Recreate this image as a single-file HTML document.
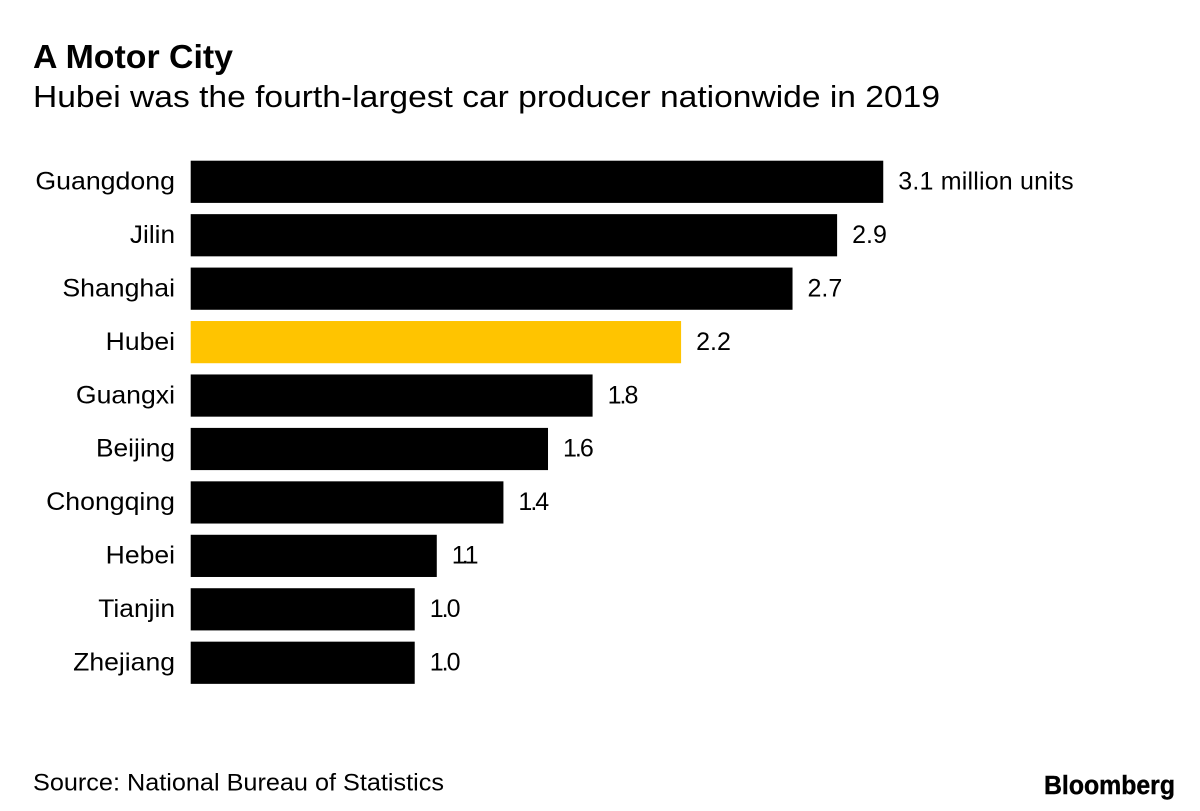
<!DOCTYPE html>
<html>
<head>
<meta charset="utf-8">
<style>
html,body{margin:0;padding:0;background:#fff;}
body{width:1200px;height:811px;overflow:hidden;font-family:"Liberation Sans",sans-serif;}
svg{display:block;}
text{font-family:"Liberation Sans",sans-serif;fill:#000;}
</style>
</head>
<body>
<svg id="chart" width="1200" height="811" viewBox="0 0 1200 811" xmlns="http://www.w3.org/2000/svg">
<text x="33" y="68.2" font-size="33" font-weight="700" textLength="200" lengthAdjust="spacingAndGlyphs">A Motor City</text>
<text x="33" y="107.2" font-size="30.5" textLength="907" lengthAdjust="spacingAndGlyphs">Hubei was the fourth-largest car producer nationwide in 2019</text>
<g id="bars"></g>
<text x="33" y="790.5" font-size="24.5" textLength="411" lengthAdjust="spacingAndGlyphs">Source: National Bureau of Statistics</text>
<text x="1175" y="794" font-size="25.5" font-weight="700" stroke="#000" stroke-width="0.4" text-anchor="end" textLength="131" lengthAdjust="spacingAndGlyphs">Bloomberg</text>
</svg>
<script>
const categories = ["Guangdong","Jilin","Shanghai","Hubei","Guangxi","Beijing","Chongqing","Hebei","Tianjin","Zhejiang"];
// Bar lengths; printed labels are rounded to one decimal.
const values = [3.107,2.9,2.7,2.2,1.803,1.603,1.403,1.104,1.005,1.005];
const valueLabels = ["3.1 million units","2.9","2.7","2.2","1.8","1.6","1.4","1.1","1.0","1.0"];
const highlighted = ["Hubei"];

const svgNS = "http://www.w3.org/2000/svg";
const group = document.getElementById("bars");
const x0 = 190.7;
const pxPerUnit = 222.9;
const top0 = 160.7;
const step = 53.44;
const barH = 42.2;
const baselineOffset = 28.8;
function xScale(v){ return x0 + v * pxPerUnit; }
function yScale(i){ return top0 + i * step; }

// The reference typeface sets wide letters about 1px wider than Liberation Sans,
// and its numeral 1 is narrower.
function fittedWidth(el, str){
  const wide = (str.match(/[^ijlI\d. ]/g) || []).length;
  const ones = (str.match(/1/g) || []).length;
  return el.getComputedTextLength() + wide - ones * 4;
}

categories.forEach(function(cat, i){
  const y = yScale(i);
  const xEnd = xScale(values[i]);

  const label = document.createElementNS(svgNS, "text");
  
  
  label.setAttribute("x", 175);
  label.setAttribute("y", y + baselineOffset);
  label.setAttribute("font-size", "25");
  label.setAttribute("text-anchor", "end");
  label.textContent = cat;
  group.appendChild(label);
  label.setAttribute("textLength", fittedWidth(label, cat));
  label.setAttribute("lengthAdjust", "spacingAndGlyphs");

  const rect = document.createElementNS(svgNS, "rect");
  
  
  rect.setAttribute("x", x0);
  rect.setAttribute("y", y);
  rect.setAttribute("width", xEnd - x0);
  rect.setAttribute("height", barH);
  rect.setAttribute("fill", highlighted.includes(cat) ? "#ffc400" : "#000");
  group.appendChild(rect);

  const val = document.createElementNS(svgNS, "text");
  
  
  val.setAttribute("x", xEnd + 15);
  val.setAttribute("y", y + baselineOffset);
  val.setAttribute("font-size", "25");
  val.textContent = valueLabels[i];
  group.appendChild(val);
  val.setAttribute("textLength", fittedWidth(val, valueLabels[i]));
  val.setAttribute("lengthAdjust", "spacing");
});
</script>
</body>
</html>
